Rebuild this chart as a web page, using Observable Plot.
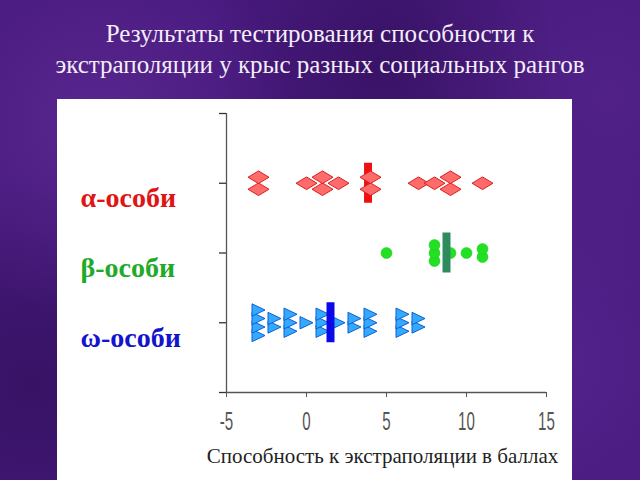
<!DOCTYPE html>
<html><head><meta charset="utf-8">
<script src="https://cdn.jsdelivr.net/npm/d3@7"></script>
<script src="https://cdn.jsdelivr.net/npm/@observablehq/plot@0.6"></script>
<style>
html,body{margin:0;padding:0;}
body{width:640px;height:480px;overflow:hidden;position:relative;
background:
 radial-gradient(circle at 15% 25%, rgba(110,55,165,.45), transparent 30%),
 radial-gradient(circle at 85% 75%, rgba(100,50,160,.40), transparent 35%),
 radial-gradient(circle at 60% 12%, rgba(30,8,60,.35), transparent 30%),
 radial-gradient(circle at 5% 80%, rgba(35,10,70,.45), transparent 30%),
 radial-gradient(circle at 95% 20%, rgba(95,45,150,.4), transparent 30%),
 #47197d;}
#title{position:absolute;left:0;top:18px;width:640px;text-align:center;font-family:"Liberation Serif","Times New Roman",serif;font-size:25px;line-height:31px;color:#f3eef8;}
#panel{position:absolute;left:57px;top:99px;width:515px;height:381px;background:#fff;}
</style></head><body>
<div id="title">Результаты тестирования способности к<br>экстраполяции у крыс разных социальных рангов</div>
<div id="panel"></div>
<script>
// Data
const groups = ["α-особи", "β-особи", "ω-особи"];
const groupRows = [3, 2, 1];
const alphaValues = [-3, -3, 0, 1, 1, 2, 4, 4, 7, 8, 9, 9, 11];
const betaValues = [5, 8, 8, 8, 9, 10, 11, 11];
const omegaValues = [-3, -3, -3, -3, -2, -2, -1, -1, -1, 0, 1, 1, 1, 2, 3, 3, 4, 4, 4, 6, 6, 6, 7, 7];
const xTicks = [-5, 0, 5, 10, 15];
const yTicks = [0, 1, 2, 3, 4];
const xLabel = "Способность к экстраполяции в баллах";

// Layout
const W = 515, H = 381, ML = 169, MR = 26, MT = 14, MB = 88;
const pxPerUnit = (H - MT - MB) / 4;

function stack(values, row, spacing) {
  const counts = d3.rollup(values, v => v.length, d => d);
  const seen = new Map();
  return values.map(v => {
    const k = counts.get(v), i = seen.get(v) || 0;
    seen.set(v, i + 1);
    return {x: v, y: row + (i - (k - 1) / 2) * spacing / pxPerUnit};
  });
}
const alphaData = stack(alphaValues, groupRows[0], 12);
const betaData = stack(betaValues, groupRows[1], 8);
const omegaData = stack(omegaValues, groupRows[2], 8.5);
const means = [d3.mean(alphaValues), d3.mean(betaValues), d3.mean(omegaValues)];
const barHalf = 20 / pxPerUnit;

const wideDiamond = {draw(ctx, size) {
  const s = Math.sqrt(size / Math.PI);
  ctx.moveTo(-s, 0); ctx.lineTo(0, -0.6 * s); ctx.lineTo(s, 0); ctx.lineTo(0, 0.6 * s); ctx.closePath();
}};
const rightTriangle = {draw(ctx, size) {
  const s = Math.sqrt(size / Math.PI);
  ctx.moveTo(-s, -0.95 * s); ctx.lineTo(s, 0); ctx.lineTo(-s, 0.95 * s); ctx.closePath();
}};

const meanBar = (i, color) => Plot.ruleX([means[i]], {x: d => d, y1: groupRows[i] - barHalf, y2: groupRows[i] + barHalf, stroke: color, strokeWidth: 8});
const label = (i, color) => Plot.text([groups[i]], {y: () => groupRows[i], frameAnchor: "left", dx: -146, dy: 15, textAnchor: "start",
  fill: color, fontSize: 28, fontWeight: "bold", fontFamily: "'Liberation Serif','Times New Roman',serif"});

const chart = Plot.plot({
  width: W, height: H, marginLeft: ML, marginRight: MR, marginTop: MT, marginBottom: MB,
  x: {domain: [-5, 15]},
  y: {domain: [0, 4]},
  style: {background: "transparent", fontFamily: "'Liberation Sans', Arial, sans-serif", overflow: "visible"},
  marks: [
    Plot.ruleX([-5], {stroke: "#555", strokeWidth: 1.3}),
    Plot.ruleY([0], {stroke: "#555", strokeWidth: 1.3}),
    Plot.axisX({ticks: xTicks, tickSize: 5, tickPadding: 14, label: null, fontSize: 26, color: "#555", tickFormat: d => String(d)}),
    Plot.axisY({ticks: yTicks, tickSize: 7, tickFormat: () => "", label: null, color: "#333", strokeWidth: 1.3}),
    meanBar(0, "#ee1111"),
    Plot.dot(alphaData, {x: "x", y: "y", symbol: wideDiamond, r: 10.5, fill: "#ff6b6b", stroke: "#d82020", strokeWidth: 1}),
    Plot.dot(betaData, {x: "x", y: "y", r: 5.5, fill: "#22e022", stroke: "#1ccc1c", strokeWidth: 0.5}),
    meanBar(1, "#2e8b5e"),
    Plot.dot(omegaData, {x: "x", y: "y", symbol: rightTriangle, r: 6.5, fill: "#33aaff", stroke: "#1060d0", strokeWidth: 1}),
    meanBar(2, "#0a0ae6"),
    label(0, "#e01414"),
    label(1, "#1faa2a"),
    label(2, "#1414cc"),
    Plot.text([xLabel], {frameAnchor: "bottom", dy: 70, dx: -4, fontSize: 21, fill: "#222",
      fontFamily: "'Liberation Serif','Times New Roman',serif"})
  ]
});
document.getElementById("panel").appendChild(chart);
// condensed tick labels
d3.select(chart).selectAll('g[aria-label="x-axis tick label"] text').each(function() {
  const t = this.getAttribute("transform") || "";
  this.setAttribute("transform", t + " scale(0.58,1)");
});
</script>
</body></html>
